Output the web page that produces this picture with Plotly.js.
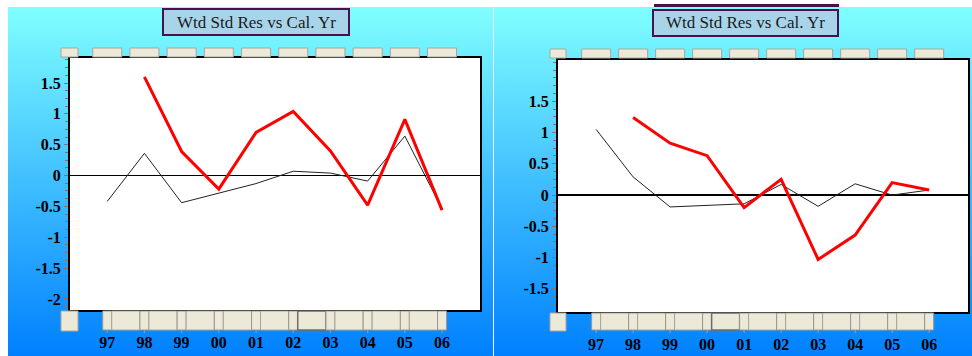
<!DOCTYPE html>
<html>
<head>
<meta charset="utf-8">
<script src="https://cdn.plot.ly/plotly-3.0.1.min.js"></script>
<style>
  html, body { margin:0; padding:0; background:#ffffff; }
  #wrap { position:relative; width:972px; height:356px; overflow:hidden; background:#ffffff; }
  .panel { position:absolute; background:linear-gradient(to bottom, #80ffff 0%, #40bfff 50%, #0080ff 100%); }
  #chart { position:absolute; left:0; top:0; width:972px; height:356px; }
</style>
</head>
<body>
<div id="wrap">
  <div class="panel" style="left:8px; top:7px; width:485px; height:349px;"></div>
  <div class="panel" style="left:494px; top:7px; width:478px; height:349px;"></div>
  <div id="chart"></div>
</div>
<script>
// ---- data ----
var categories = ['97','98','99','00','01','02','03','04','05','06'];
var leftBlack  = [-0.42, 0.36, -0.44, -0.28, -0.13, 0.07, 0.04, -0.09, 0.64, -0.54];
var leftRed    = [null, 1.60, 0.39, -0.22, 0.70, 1.04, 0.40, -0.48, 0.91, -0.56];
var rightBlack = [1.05, 0.29, -0.19, -0.16, -0.14, 0.17, -0.18, 0.18, 0.00, 0.08];
var rightRed   = [null, 1.24, 0.83, 0.63, -0.20, 0.25, -1.03, -0.64, 0.20, 0.08];
var leftYTicks  = [-2, -1.5, -1, -0.5, 0, 0.5, 1, 1.5];
var leftYLabels = ['-2', '-1.5', '-1', '-0.5', '0', '0.5', '1', '1.5'];
var rightYTicks  = [-1.5, -1, -0.5, 0, 0.5, 1, 1.5];
var rightYLabels = ['-1.5', '-1', '-0.5', '0', '0.5', '1', '1.5'];
var chartTitle = 'Wtd Std Res vs Cal. Yr';

// ---- layout geometry (pixels) ----
var W = 972, H = 356;
var P = [
  {L:70,  R:480, T:58, B:310, xr:[-1.0, 10.02], yr:[-2.18, 1.906],
   box:[163, 9, 349, 35], topBtnY:[48, 57], smallTop:[61, 78], botY:[311, 330], smallBot:[61, 78, 311, 331], pressed:5},
  {L:558, R:968, T:60, B:312, xr:[-1.03, 10.05], yr:[-1.87, 2.16],
   box:[653, 10, 838, 36], topBtnY:[49, 58], smallTop:[550, 566], botY:[313, 330], smallBot:[550, 566, 313, 331], pressed:3}
];
function fx(p){ return p / W; }
function fy(p){ return 1 - p / H; }
function catPx(g, i){ return g.L + (i - g.xr[0]) / (g.xr[1] - g.xr[0]) * (g.R - g.L); }

var BEIGE = '#ece9d8', BTNLINE = '#aaa69b', TICKC = '#a89a90';
var FONT = 'Liberation Serif, Times New Roman, serif';
var shapes = [], annotations = [];
function rectPx(x0, y0, x1, y1, fill, line, lw){
  shapes.push({type:'rect', xref:'paper', yref:'paper', x0:fx(x0), x1:fx(x1), y0:fy(y1), y1:fy(y0),
    fillcolor:fill, line:{color:line, width:lw}, layer:'above'});
}
function linePx(x0, y0, x1, y1, color, lw){
  shapes.push({type:'line', xref:'paper', yref:'paper', x0:fx(x0), x1:fx(x1), y0:fy(y0), y1:fy(y1),
    line:{color:color, width:lw}, layer:'above'});
}

P.forEach(function(g, k){
  // title box
  rectPx(g.box[0], g.box[1], g.box[2], g.box[3], '#a8d4ea', '#4b0f4b', 2);
  annotations.push({xref:'paper', yref:'paper', x:fx((g.box[0]+g.box[2])/2), y:fy((g.box[1]+g.box[3])/2),
    xanchor:'center', yanchor:'middle', showarrow:false, text:chartTitle,
    font:{family:FONT, size:17, color:'#1a1a1a'}});
  // top buttons
  rectPx(g.smallTop[0], g.topBtnY[0], g.smallTop[1], g.topBtnY[1], BEIGE, BTNLINE, 1);
  categories.forEach(function(c, i){
    var cx = catPx(g, i);
    rectPx(cx - 14.5, g.topBtnY[0], cx + 14.5, g.topBtnY[1], BEIGE, BTNLINE, 1);
  });
  // bottom buttons
  rectPx(g.smallBot[0], g.smallBot[2], g.smallBot[1], g.smallBot[3], BEIGE, BTNLINE, 1);
  categories.forEach(function(c, i){
    var cx = catPx(g, i);
    rectPx(cx - 4.5, g.botY[0], cx + 4.5, g.botY[1], BEIGE, '#9a968c', 1);
    linePx(cx, g.botY[1], cx, g.botY[1] + 3, TICKC, 1);
    if (i < categories.length - 1) {
      var nx = catPx(g, i + 1);
      var pressed = (i === g.pressed);
      rectPx(cx + 4.5, g.botY[0], nx - 4.5, g.botY[1], BEIGE, pressed ? '#6f6c66' : BTNLINE, pressed ? 1.5 : 1);
    }
  });
});

function xAxis(g, anchor){
  return {domain:[fx(g.L), fx(g.R)], range:g.xr, type:'category', anchor:anchor,
    showgrid:false, zeroline:false, showline:true, mirror:true, linecolor:'#000', linewidth:2,
    ticks:'outside', ticklen:17, tickcolor:TICKC, tickwidth:1, ticklabelstandoff:0,
    tickfont:{family:FONT, size:16, color:'#000', weight:'bold'},
    fixedrange:true};
}
function yAxis(g, anchor, tv, tt){
  return {domain:[fy(g.B), fy(g.T)], range:g.yr, anchor:anchor,
    showgrid:false, zeroline:true, zerolinecolor:'#000', zerolinewidth:1.2,
    showline:true, mirror:true, linecolor:'#000', linewidth:2,
    tickmode:'array', tickvals:tv, ticktext:tt,
    ticks:'outside', ticklen:4, tickcolor:'#8a7268', tickwidth:1, ticklabelstandoff:0,
    minor:{dtick:0.125, tick0:0, ticks:'outside', ticklen:3, tickcolor:'#8a7268', tickwidth:1, showgrid:false},
    tickfont:{family:FONT, size:16, color:'#000', weight:'bold'},
    fixedrange:true};
}

var traces = [
  {x:categories, y:leftBlack, xaxis:'x', yaxis:'y', type:'scatter', mode:'lines', line:{color:'#222', width:1}, hoverinfo:'skip'},
  {x:categories, y:leftRed,   xaxis:'x', yaxis:'y', type:'scatter', mode:'lines', line:{color:'#ff0000', width:3}, hoverinfo:'skip'},
  {x:categories, y:rightBlack, xaxis:'x2', yaxis:'y2', type:'scatter', mode:'lines', line:{color:'#222', width:1}, hoverinfo:'skip'},
  {x:categories, y:rightRed,   xaxis:'x2', yaxis:'y2', type:'scatter', mode:'lines', line:{color:'#ff0000', width:3}, hoverinfo:'skip'}
];

// small purple bar above right title box
shapes.push({type:'rect', xref:'paper', yref:'paper', x0:fx(654), x1:fx(839), y0:fy(7), y1:fy(4),
  fillcolor:'#4b0f4b', line:{width:0}, layer:'above'});

var layout = {
  width:W, height:H, margin:{l:0, r:0, t:0, b:0, pad:0},
  paper_bgcolor:'rgba(0,0,0,0)', plot_bgcolor:'#ffffff', showlegend:false,
  xaxis: xAxis(P[0], 'y'), yaxis: yAxis(P[0], 'x', leftYTicks, leftYLabels),
  xaxis2: xAxis(P[1], 'y2'), yaxis2: yAxis(P[1], 'x2', rightYTicks, rightYLabels),
  shapes:shapes, annotations:annotations
};

Plotly.newPlot('chart', traces, layout, {displayModeBar:false, staticPlot:true});
</script>
</body>
</html>
